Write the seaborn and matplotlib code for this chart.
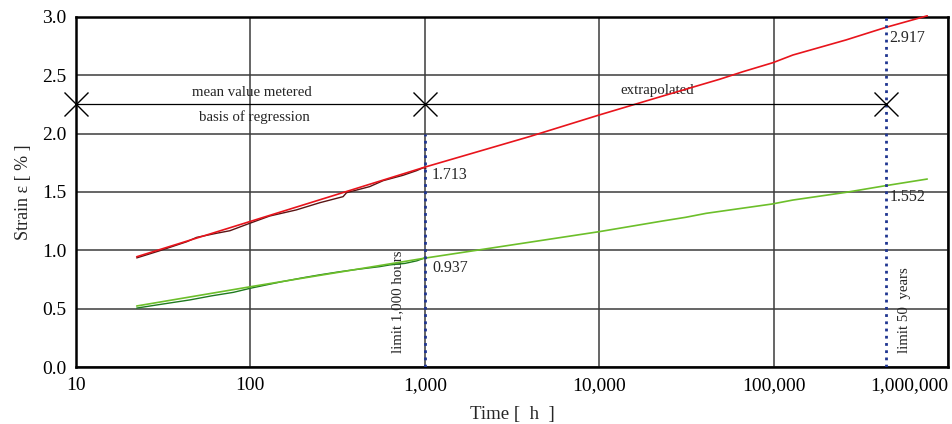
import numpy as np
import pandas as pd
import matplotlib
matplotlib.use("Agg")
import matplotlib.pyplot as plt
import seaborn as sns

# ---- data ----
red_fit_t = [22.3, 100, 1000, 3990, 10000, 23200, 49000, 66700, 99000, 129000, 260000, 438000, 760000]
red_fit_v = [0.945, 1.248, 1.713, 1.975, 2.16, 2.323, 2.466, 2.531, 2.608, 2.674, 2.803, 2.910, 3.010]

red_meas_t = [22.3, 30, 43.2, 49.2, 63.9, 76.3, 99.3, 129, 183, 250, 340, 356, 483, 577, 750, 898, 980, 1015]
red_meas_v = [0.935, 0.995, 1.074, 1.111, 1.146, 1.168, 1.232, 1.294, 1.346, 1.408, 1.46, 1.494, 1.546, 1.597, 1.643, 1.683, 1.708, 1.703]

green_fit_t = [22.3, 100, 1000, 10000, 23000, 31300, 41000, 98000, 129000, 260000, 438000, 760000]
green_fit_v = [0.523, 0.688, 0.933, 1.16, 1.251, 1.283, 1.317, 1.397, 1.431, 1.497, 1.554, 1.611]

green_meas_t = [22.3, 30, 45, 60, 80, 100, 150, 200, 250, 320, 400, 550, 630, 770, 900, 1000]
green_meas_v = [0.505, 0.535, 0.575, 0.61, 0.64, 0.675, 0.73, 0.765, 0.79, 0.815, 0.835, 0.86, 0.875, 0.888, 0.91, 0.935]

marker_t = [10, 1000, 438000]
marker_level = 2.25
limit_hours = 1000
limit_years = 438000

x_ticks = [10, 100, 1000, 10000, 100000, 1000000]
x_tick_labels = ["10", "100", "1,000", "10,000", "100,000", "1,000,000"]
y_ticks = [0.0, 0.5, 1.0, 1.5, 2.0, 2.5, 3.0]
y_tick_labels = ["0.0", "0.5", "1.0", "1.5", "2.0", "2.5", "3.0"]

value_labels = [(1100, 1.646, "1.713"), (1100, 0.849, "0.937"),
                (462000, 2.82, "2.917"), (462000, 1.457, "1.552")]

# ---- style ----
sns.set_style("white")
plt.rcParams["font.family"] = ["Liberation Serif", "DejaVu Serif"]

fig = plt.figure(figsize=(9.53, 4.24), dpi=100)
ax = fig.add_axes([0.0797, 0.1344, 0.9151, 0.8256])

df_rm = pd.DataFrame({"t": red_meas_t, "v": red_meas_v})
df_rf = pd.DataFrame({"t": red_fit_t, "v": red_fit_v})
df_gm = pd.DataFrame({"t": green_meas_t, "v": green_meas_v})
df_gf = pd.DataFrame({"t": green_fit_t, "v": green_fit_v})

ax.set_xscale("log")
sns.lineplot(data=df_rm, x="t", y="v", ax=ax, color="#5a1414", lw=1.0, estimator=None, sort=False, zorder=4)
sns.lineplot(data=df_rf, x="t", y="v", ax=ax, color="#e8141c", lw=1.2, estimator=None, sort=False, zorder=5)
sns.lineplot(data=df_gm, x="t", y="v", ax=ax, color="#1f7a1f", lw=1.0, estimator=None, sort=False, zorder=4)
sns.lineplot(data=df_gf, x="t", y="v", ax=ax, color="#6cbf2a", lw=1.2, estimator=None, sort=False, zorder=5)
for ln in ax.lines:
    ln.set_clip_on(False)

# annotation line with markers
ax.plot([marker_t[0], marker_t[-1]], [marker_level, marker_level], color="black", lw=0.9, zorder=6, clip_on=False)
ax.plot(marker_t, [marker_level] * len(marker_t), ls="none", marker="x", ms=17, mew=1.0,
        color="black", zorder=7, clip_on=False)

# limit lines
ax.plot([limit_hours, limit_hours], [0, 2.0], color="#1f3590", lw=2.0, ls=(0, (1, 1.6)), zorder=6)
ax.plot([limit_years, limit_years], [0, 3.0], color="#1f3590", lw=2.0, ls=(0, (1, 1.6)), zorder=6)

tfs = 10.7
ax.text(102, 2.35, "mean value metered", ha="center", va="center", fontsize=tfs)
ax.text(105, 2.145, "basis of regression", ha="center", va="center", fontsize=tfs)
ax.text(21500, 2.37, "extrapolated", ha="center", va="center", fontsize=tfs)
ax.text(700, 0.12, "limit 1,000 hours", rotation=90, ha="center", va="bottom", fontsize=tfs)
ax.text(562000, 0.12, "limit 50  years", rotation=90, ha="center", va="bottom", fontsize=tfs)
for x, y, s in value_labels:
    ax.text(x, y, s, ha="left", va="center", fontsize=11.5)

ax.set_xlim(10, 1e6)
ax.set_ylim(0, 3.0)
ax.set_xticks(x_ticks)
ax.set_xticklabels(x_tick_labels)
ax.xaxis.set_minor_locator(matplotlib.ticker.NullLocator())
ax.set_yticks(y_ticks)
ax.set_yticklabels(y_tick_labels)
ax.get_xticklabels()[-1].set_ha("right")
ax.tick_params(axis="both", length=0, labelsize=14, colors="black")
ax.tick_params(axis="x", pad=7)
ax.tick_params(axis="y", pad=7)

ax.grid(True, which="major", color="#3c3c3c", lw=1.1)
ax.set_axisbelow(True)
for sp in ax.spines.values():
    sp.set_visible(True)
    sp.set_color("black")
    sp.set_linewidth(1.8)

ax.set_xlabel("Time [  h  ]", fontsize=13.5, labelpad=9)
ax.set_ylabel("Strain ε [ % ]", fontsize=13, labelpad=7)

fig.savefig("out.png", dpi=100)
